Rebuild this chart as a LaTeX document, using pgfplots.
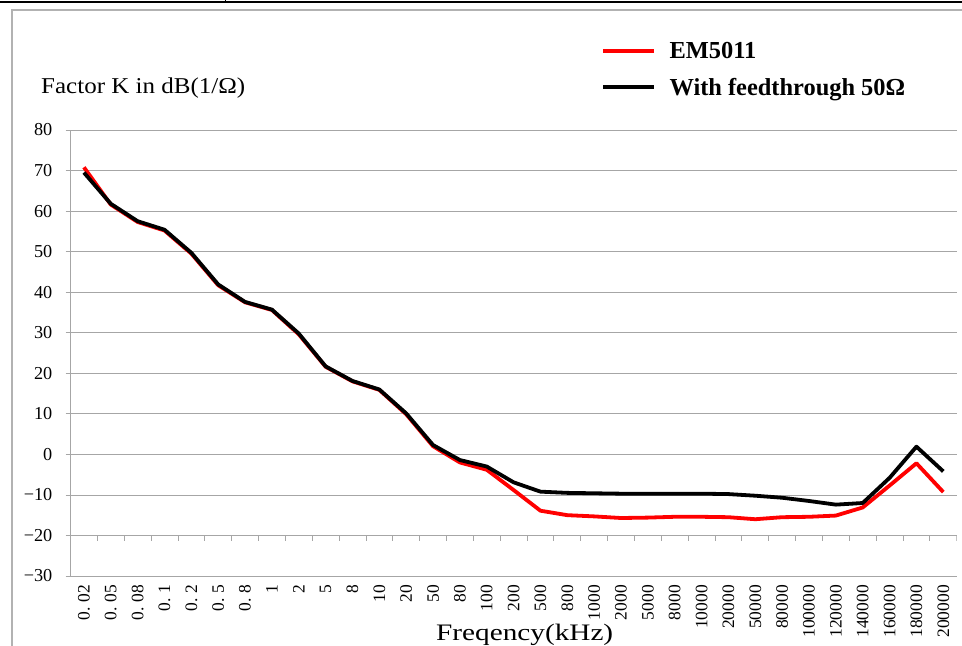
\documentclass[border=0pt]{standalone}
\usepackage{pgfplots}
\pgfplotsset{compat=1.18}
\usepackage{fontspec}
\newfontfamily\legfont{Liberation Serif}
\begin{document}
\begin{tikzpicture}[x=1bp,y=1bp]
\useasboundingbox (0,0) rectangle (962,646);
\draw[line width=2bp] (0,644) -- (962,644);
\draw[line width=1bp] (225,646) -- (225,643);
\draw[gray!60, line width=1.2bp] (12,0) -- (12,636) -- (962,636);
\begin{axis}[
  at={(70.5bp,70bp)}, anchor=south west, scale only axis,
  width=886.2bp, height=446bp,
  xmin=-0.5, xmax=32.5, ymin=-30, ymax=80,
  ytick={-30,-20,...,80},
  yticklabels={−30,−20,−10,0,10,20,30,40,50,60,70,80},
  xtick={0,...,32},
  xticklabels={{0.\ 02},{0.\ 05},{0.\ 08},{0.\ 1},{0.\ 2},{0.\ 5},{0.\ 8},1,2,5,8,10,20,50,80,100,200,500,800,1000,2000,5000,8000,10000,20000,50000,80000,100000,120000,140000,160000,180000,200000},
  xticklabel style={rotate=90, anchor=east, inner sep=4bp, font=\legfont\fontsize{17.5}{17.5}\selectfont},
  yticklabel style={anchor=east, inner sep=0pt, xshift=-13bp, font=\legfont\fontsize{18.3}{18.3}\selectfont},
  xtick style={draw=none},
  ytick style={gray!70, line width=0.8bp},
  tick align=outside, major tick length=5bp,
  ymajorgrids, grid style={gray!70, line width=0.8bp},
  axis line style={gray!70, line width=0.8bp},
  axis x line*=bottom, axis y line*=left,
  legend style={at={(0.5986,1.2018)}, anchor=north west, draw=none, fill=none,
    inner sep=0pt, row sep=14bp, column sep=0bp,
    font=\legfont\bfseries\fontsize{24.5}{24.5}\selectfont,
    cells={anchor=west}},
  legend image code/.code={\draw[#1] (0bp,0bp) -- (50.6bp,0bp);},
  legend cell align=left,
]
\pgfplotsinvokeforeach{0.5,1.5,...,32.5}{\draw[gray!70, line width=0.8bp] (axis cs:#1,-20) -- ++(0pt,-5.5bp);}
\addplot[red, line width=3.8bp, line join=round] coordinates {
(0,70.8)(1,61.6)(2,57.3)(3,55.2)(4,49.5)(5,41.7)(6,37.5)(7,35.6)(8,29.6)(9,21.6)(10,18.0)
(11,15.9)(12,9.9)(13,2.0)(14,-2.0)(15,-3.8)(16,-8.8)(17,-13.9)(18,-15.0)(19,-15.3)(20,-15.7)
(21,-15.6)(22,-15.4)(23,-15.4)(24,-15.5)(25,-16.0)(26,-15.5)(27,-15.4)(28,-15.1)(29,-13.1)
(30,-7.7)(31,-2.2)(32,-9.3)};
\addlegendentry{\hspace{12bp}EM5011}
\addplot[black, line width=3.8bp, line join=round] coordinates {
(0,69.5)(1,61.8)(2,57.5)(3,55.4)(4,49.7)(5,41.9)(6,37.6)(7,35.7)(8,29.8)(9,21.7)(10,18.1)
(11,16.0)(12,10.1)(13,2.3)(14,-1.4)(15,-3.0)(16,-6.9)(17,-9.2)(18,-9.5)(19,-9.6)(20,-9.7)
(21,-9.7)(22,-9.7)(23,-9.7)(24,-9.8)(25,-10.2)(26,-10.7)(27,-11.5)(28,-12.4)(29,-12.0)
(30,-5.8)(31,1.9)(32,-4.2)};
\addlegendentry{\hspace{12bp}With feedthrough 50Ω}
\end{axis}
\node[anchor=base west, font=\legfont\fontsize{22.7}{22.7}\selectfont, inner sep=0pt] at (41,552.7) {\resizebox{204bp}{\height}{Factor K in dB(1/Ω)}};
\node[anchor=base west, font=\legfont\fontsize{23.7}{23.7}\selectfont, inner sep=0pt] at (436,5.3) {\resizebox{177bp}{\height}{Freqency(kHz)}};
\end{tikzpicture}
\end{document}
